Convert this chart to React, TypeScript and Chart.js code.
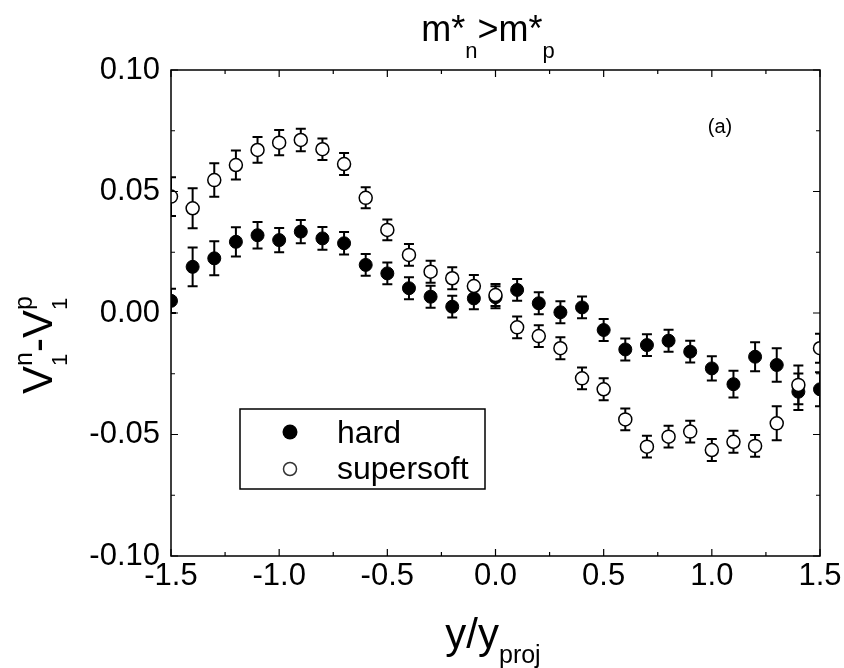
import React, { useEffect, useRef } from 'react';
import { Chart, registerables } from 'chart.js';

Chart.register(...registerables);

const xValues = [
  -1.5, -1.4, -1.3, -1.2, -1.1, -1.0, -0.9, -0.8, -0.7, -0.6, -0.5, -0.4, -0.3, -0.2, -0.1,
  0.0, 0.1, 0.2, 0.3, 0.4, 0.5, 0.6, 0.7, 0.8, 0.9, 1.0, 1.1, 1.2, 1.3, 1.4, 1.5,
];

const hardValues = [
  0.005, 0.019, 0.0225, 0.0293, 0.032, 0.030, 0.0335, 0.0307, 0.0287, 0.0198, 0.0163, 0.0102, 0.0067, 0.0026, 0.006,
  0.0065, 0.0095, 0.004, 0.0003, 0.0023, -0.007, -0.015, -0.0132, -0.0114, -0.0159, -0.0228, -0.0293, -0.018, -0.0214, -0.0324, -0.0314,
];
const hardErrors = [
  0.005, 0.008, 0.007, 0.006, 0.0055, 0.005, 0.0048, 0.0047, 0.0046, 0.0045, 0.0045, 0.0045, 0.0045, 0.0045, 0.0045,
  0.0045, 0.0045, 0.0045, 0.0045, 0.0045, 0.0045, 0.0045, 0.0045, 0.0045, 0.0045, 0.005, 0.0055, 0.006, 0.0069, 0.0075, 0.007,
];

const softValues = [
  0.0479, 0.0431, 0.0547, 0.0609, 0.0671, 0.0701, 0.0712, 0.0674, 0.0613, 0.0474, 0.0342, 0.0239, 0.017, 0.0143, 0.0111,
  0.0074, -0.0059, -0.0095, -0.0145, -0.0269, -0.0314, -0.0438, -0.055, -0.0509, -0.0488, -0.0564, -0.053, -0.0547, -0.0454, -0.0296, -0.0145,
];
const softErrors = [
  0.008, 0.0082, 0.0069, 0.006, 0.0053, 0.0052, 0.0046, 0.0044, 0.0045, 0.0043, 0.0043, 0.0045, 0.0045, 0.0045, 0.0045,
  0.0045, 0.0045, 0.0045, 0.0045, 0.0045, 0.0045, 0.0045, 0.0045, 0.0045, 0.0045, 0.0045, 0.0045, 0.0045, 0.007, 0.008, 0.006,
];

const xTickLabels = ['-1.5', '-1.0', '-0.5', '0.0', '0.5', '1.0', '1.5'];
const yTickLabels = ['-0.10', '-0.05', '0.00', '0.05', '0.10'];
const seriesNames = ['hard', 'supersoft'];

const FONT = '"Liberation Sans", Arial, Helvetica, sans-serif';

type Part = { text: string; size: number; dy: number; stackWithPrev?: boolean };

function drawRich(ctx: CanvasRenderingContext2D, parts: Part[], cx: number, baseY: number) {
  const widths = parts.map((p) => {
    ctx.font = `${p.size}px ${FONT}`;
    return ctx.measureText(p.text).width;
  });
  let total = 0;
  const xs: number[] = [];
  let groupStart = 0;
  let groupW = 0;
  parts.forEach((p, i) => {
    if (p.stackWithPrev && i > 0) {
      xs.push(groupStart);
      groupW = Math.max(groupW, widths[i]);
      total = groupStart + groupW;
    } else {
      groupStart = total;
      groupW = widths[i];
      xs.push(groupStart);
      total = groupStart + groupW;
    }
  });
  const start = cx - total / 2;
  ctx.textBaseline = 'alphabetic';
  ctx.textAlign = 'left';
  parts.forEach((p, i) => {
    ctx.font = `${p.size}px ${FONT}`;
    ctx.fillText(p.text, start + xs[i], baseY + p.dy);
  });
}

const errorBarPlugin = {
  id: 'errorBars',
  beforeDatasetDraw(chart: any, args: any) {
    const ds = chart.data.datasets[args.index];
    const errs: number[] = ds.errors;
    if (!errs) return;
    const { ctx, chartArea } = chart;
    const xs = chart.scales.x;
    const ys = chart.scales.y;
    ctx.save();
    ctx.beginPath();
    ctx.rect(chartArea.left, chartArea.top, chartArea.right - chartArea.left, chartArea.bottom - chartArea.top);
    ctx.clip();
    ctx.strokeStyle = '#000';
    ctx.lineWidth = 2;
    ds.data.forEach((pt: any, i: number) => {
      const px = xs.getPixelForValue(pt.x);
      const top = ys.getPixelForValue(pt.y + errs[i]);
      const bot = ys.getPixelForValue(pt.y - errs[i]);
      ctx.beginPath();
      ctx.moveTo(px, top);
      ctx.lineTo(px, bot);
      ctx.moveTo(px - 5, top);
      ctx.lineTo(px + 5, top);
      ctx.moveTo(px - 5, bot);
      ctx.lineTo(px + 5, bot);
      ctx.stroke();
    });
    ctx.restore();
  },
};

const decorPlugin = {
  id: 'decor',
  afterDraw(chart: any) {
    const { ctx, chartArea } = chart;
    const { left, right, top, bottom } = chartArea;
    const xs = chart.scales.x;
    const ys = chart.scales.y;
    ctx.save();
    ctx.strokeStyle = '#000';
    ctx.lineWidth = 1.5;
    ctx.strokeRect(left, top, right - left, bottom - top);

    // inward ticks
    ctx.lineWidth = 1.2;
    ctx.beginPath();
    for (let k = 0; k <= 12; k++) {
      const v = -1.5 + k * 0.25;
      const len = k % 2 === 0 ? 7 : 4;
      const px = xs.getPixelForValue(v);
      ctx.moveTo(px, bottom);
      ctx.lineTo(px, bottom - len);
      ctx.moveTo(px, top);
      ctx.lineTo(px, top + len);
    }
    for (let k = 0; k <= 8; k++) {
      const v = -0.1 + k * 0.025;
      const len = k % 2 === 0 ? 7 : 4;
      const py = ys.getPixelForValue(v);
      ctx.moveTo(left, py);
      ctx.lineTo(left + len, py);
      ctx.moveTo(right, py);
      ctx.lineTo(right - len, py);
    }
    ctx.stroke();

    ctx.fillStyle = '#000';
    // title
    drawRich(
      ctx,
      [
        { text: 'm*', size: 36, dy: 0 },
        { text: 'n', size: 22, dy: 17 },
        { text: '>m*', size: 36, dy: 0 },
        { text: 'p', size: 22, dy: 17 },
      ],
      488,
      41
    );

    // x title
    drawRich(
      ctx,
      [
        { text: 'y/y', size: 42, dy: 0 },
        { text: 'proj', size: 25, dy: 15 },
      ],
      493,
      648
    );

    // y title (rotated)
    ctx.save();
    ctx.translate(52, 345);
    ctx.rotate(-Math.PI / 2);
    drawRich(
      ctx,
      [
        { text: 'V', size: 42, dy: 0 },
        { text: 'n', size: 25, dy: -20 },
        { text: '1', size: 22, dy: 15, stackWithPrev: true },
        { text: '-', size: 42, dy: 0 },
        { text: 'V', size: 42, dy: 0 },
        { text: 'p', size: 25, dy: -20 },
        { text: '1', size: 22, dy: 15, stackWithPrev: true },
      ],
      0,
      0
    );
    ctx.restore();

    // panel label
    ctx.font = `20px ${FONT}`;
    ctx.textAlign = 'center';
    ctx.textBaseline = 'middle';
    ctx.fillText('(a)', 720, 127);

    // legend
    ctx.lineWidth = 1.5;
    ctx.strokeStyle = '#000';
    ctx.strokeRect(240, 409, 245, 80);
    ctx.beginPath();
    ctx.arc(290, 432, 7.5, 0, Math.PI * 2);
    ctx.fill();
    ctx.beginPath();
    ctx.arc(290, 469, 6.5, 0, Math.PI * 2);
    ctx.fillStyle = '#fff';
    ctx.fill();
    ctx.strokeStyle = '#333';
    ctx.stroke();
    ctx.fillStyle = '#000';
    ctx.font = `32px ${FONT}`;
    ctx.textAlign = 'left';
    ctx.textBaseline = 'alphabetic';
    ctx.fillText(seriesNames[0], 337, 443);
    ctx.fillText(seriesNames[1], 337, 479);
    ctx.restore();
  },
};

export default function App() {
  const canvasRef = useRef<HTMLCanvasElement | null>(null);

  useEffect(() => {
    const canvas = canvasRef.current;
    if (!canvas) return;
    const chart = new Chart(canvas, {
      type: 'scatter',
      data: {
        datasets: [
          {
            label: seriesNames[1],
            data: xValues.map((x, i) => ({ x, y: softValues[i] })),
            errors: softErrors,
            pointRadius: 6.5,
            pointBackgroundColor: '#fff',
            pointBorderColor: '#000',
            pointBorderWidth: 1.5,
            showLine: false,
            clip: 0,
          } as any,
          {
            label: seriesNames[0],
            data: xValues.map((x, i) => ({ x, y: hardValues[i] })),
            errors: hardErrors,
            pointRadius: 6.5,
            pointBackgroundColor: '#000',
            pointBorderColor: '#000',
            pointBorderWidth: 1,
            showLine: false,
            clip: 0,
          } as any,
        ],
      },
      options: {
        animation: false,
        responsive: false,
        devicePixelRatio: 1,
        events: [],
        layout: { padding: { left: 61, right: 24, top: 70, bottom: 52 } },
        plugins: {
          legend: { display: false },
          tooltip: { enabled: false },
          title: { display: false },
        },
        scales: {
          x: {
            type: 'linear',
            min: -1.5,
            max: 1.5,
            grid: { display: false, drawTicks: false },
            border: { display: false },
            ticks: {
              stepSize: 0.5,
              autoSkip: false,
              maxRotation: 0,
              minRotation: 0,
              padding: 2,
              color: '#000',
              font: { size: 31, family: FONT },
              callback: (_v: any, i: number) => xTickLabels[i],
            },
            afterFit: (s: any) => {
              s.height = 60;
            },
          },
          y: {
            type: 'linear',
            min: -0.1,
            max: 0.1,
            grid: { display: false, drawTicks: false },
            border: { display: false },
            ticks: {
              stepSize: 0.05,
              autoSkip: false,
              padding: 11,
              color: '#000',
              font: { size: 31, family: FONT },
              callback: (_v: any, i: number) => yTickLabels[i],
            },
            afterFit: (s: any) => {
              s.width = 110;
            },
          },
        },
      } as any,
      plugins: [errorBarPlugin, decorPlugin],
    });
    return () => chart.destroy();
  }, []);

  return (
    <div style={{ position: 'fixed', left: 0, top: 0, width: 844, height: 668, background: '#fff' }}>
      <canvas ref={canvasRef} width={844} height={668} style={{ width: 844, height: 668 }} />
    </div>
  );
}
